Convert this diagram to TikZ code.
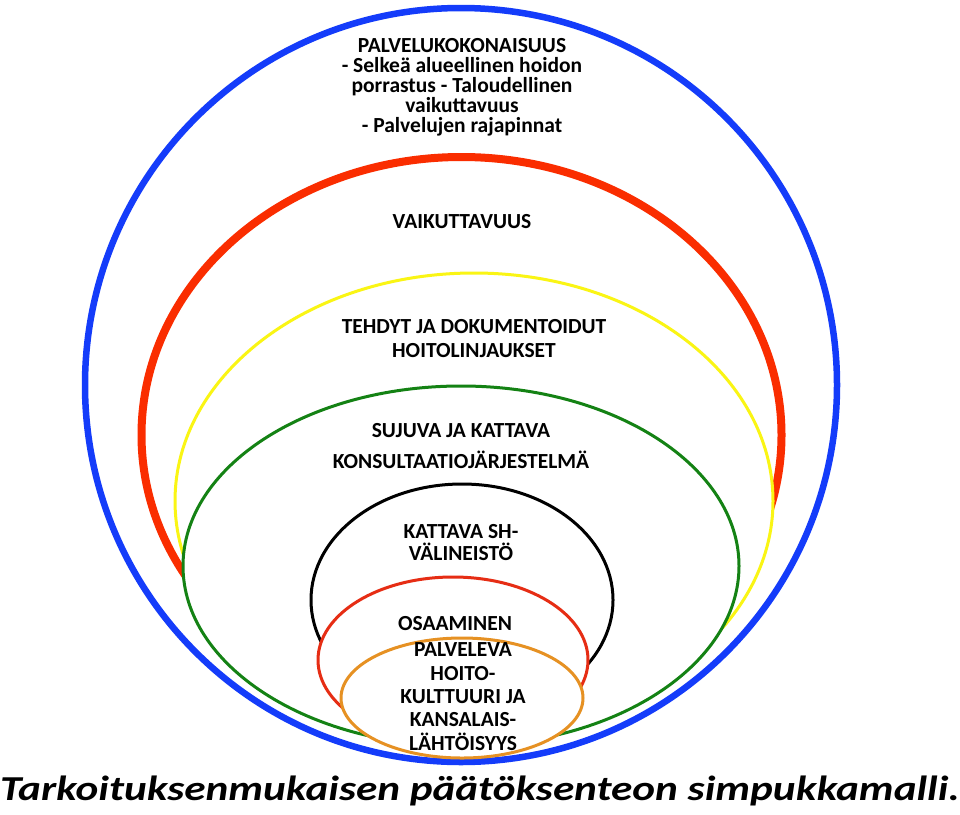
\documentclass[tikz,border=0pt]{standalone}
\usepackage{fontspec}
\setmainfont{Carlito}

\definecolor{ringblue}{RGB}{20,60,250}
\definecolor{ringred}{RGB}{250,45,0}
\definecolor{ringyellow}{RGB}{250,245,20}
\definecolor{ringgreen}{RGB}{20,130,20}
\definecolor{smallred}{RGB}{230,45,20}
\definecolor{ringorange}{RGB}{230,145,35}

\begin{document}
\begin{tikzpicture}[x=1pt,y=-1pt]
	\tikzstyle{ring} = [fill=white, line width=3pt];
	\tikzstyle{ringtext} = [align=center, inner sep=0pt, anchor=base, font=\bfseries\fontsize{21.5}{20}\selectfont];
	\useasboundingbox (0,0) rectangle (960,814);
	\fill [white] (0,0) rectangle (960,814);

	% shells, from the outside in
	\draw [ring, draw=ringblue, line width=6.5pt] (461,385) ellipse [x radius=376pt, y radius=377pt];
	\draw [ring, draw=ringred, line width=8pt] (461.5,435) ellipse [x radius=320pt, y radius=278pt];
	\draw [ring, draw=ringyellow] (474,501) ellipse [x radius=299pt, y radius=228pt];
	\draw [ring, draw=ringgreen] (461,566) ellipse [x radius=278pt, y radius=180pt];
	\draw [ring, draw=black] (462,600) ellipse [x radius=151pt, y radius=116pt];
	\draw [ring, draw=smallred] (453,660) ellipse [x radius=135pt, y radius=83pt];
	\draw [ring, draw=ringorange] (462,698) ellipse [x radius=121pt, y radius=60pt];

	% texts (base = last line)
	\draw node [ringtext] (whole) at (462,132) {PALVELUKOKONAISUUS\\- Selkeä alueellinen hoidon\\porrastus - Taloudellinen\\vaikuttavuus\\- Palvelujen rajapinnat};
	\draw node [ringtext] (effect) at (462,228) {VAIKUTTAVUUS};
	\draw node [ringtext, font=\bfseries\fontsize{21.5}{24}\selectfont] (lines) at (474,357) {TEHDYT JA DOKUMENTOIDUT\\HOITOLINJAUKSET};
	\draw node [ringtext, font=\bfseries\fontsize{21.5}{31}\selectfont] (consult) at (461,468) {SUJUVA JA KATTAVA\\KONSULTAATIOJÄRJESTELMÄ};
	\draw node [ringtext, font=\bfseries\fontsize{21.5}{22}\selectfont] (devices) at (461,560) {KATTAVA SH-\\VÄLINEISTÖ};
	\draw node [ringtext] (skill) at (455,630) {OSAAMINEN};
	\draw node [ringtext, font=\bfseries\fontsize{21.5}{23.3}\selectfont] (culture) at (463,750) {PALVELEVA\\HOITO-\\KULTTUURI JA\\KANSALAIS-\\LÄHTÖISYYS};

	\draw node [inner sep=0pt, anchor=base, font=\bfseries\itshape\fontsize{35}{35}\selectfont] (title) at (480,800) {\scalebox{1.235}[1]{Tarkoituksenmukaisen päätöksenteon simpukkamalli.}};
\end{tikzpicture}
\end{document}
